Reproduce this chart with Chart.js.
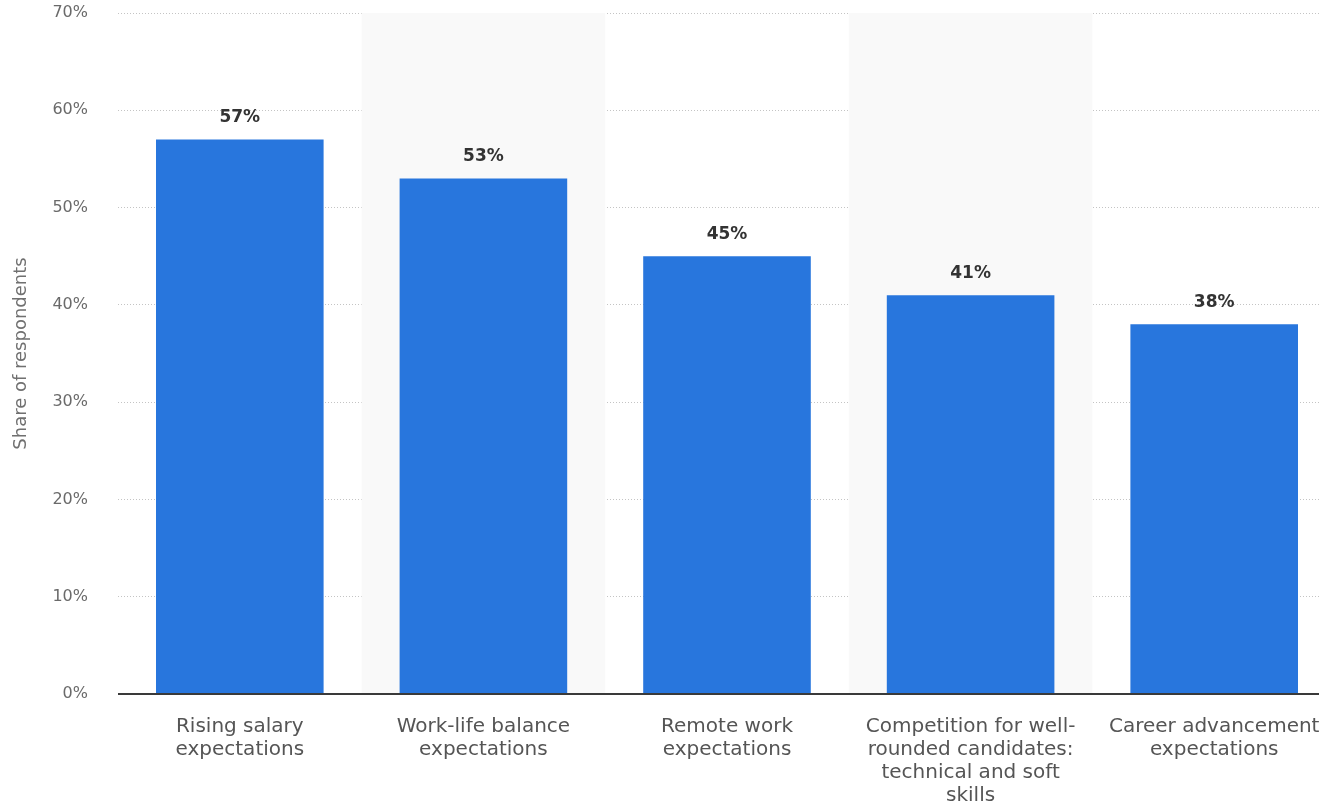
<!DOCTYPE html>
<html>
<head>
<meta charset="utf-8">
<script src="https://cdn.jsdelivr.net/npm/chart.js@4/dist/chart.umd.min.js"></script>
<style>
  html, body { margin: 0; padding: 0; background: #fff; overflow: hidden; }
  #wrap { width: 1319px; height: 803px; overflow: hidden; position: relative; }
  #box { width: 1336px; height: 803px; position: absolute; left: 0; top: 0; }
</style>
</head>
<body>
<div id="wrap"><div id="box"><canvas id="chart"></canvas></div></div>
<script>
// Survey categories (multi-line labels) and share of respondents in percent
const categories = [
  ["Rising salary", "expectations"],
  ["Work-life balance", "expectations"],
  ["Remote work", "expectations"],
  ["Competition for well-", "rounded candidates:", "technical and soft", "skills"],
  ["Career advancement", "expectations"]
];
const shares = [57, 53, 45, 41, 38];
const yTicks = [0, 10, 20, 30, 40, 50, 60, 70];

const FONT = "'DejaVu Sans', Verdana, sans-serif";

// Light shading behind every second category column
const bandPlugin = {
  id: 'bands',
  beforeDatasetsDraw(chart) {
    const { ctx, chartArea, scales: { x } } = chart;
    const w = x.width / categories.length;
    ctx.save();
    ctx.fillStyle = '#f9f9f9';
    categories.forEach((c, i) => {
      if (i % 2 === 1) {
        const cx = x.getPixelForValue(i);
        ctx.fillRect(cx - w / 2, chartArea.top, w, chartArea.bottom - chartArea.top);
      }
    });
    ctx.restore();
  }
};

// Value labels above each bar
const valueLabelPlugin = {
  id: 'valueLabels',
  afterDatasetsDraw(chart) {
    const { ctx } = chart;
    const meta = chart.getDatasetMeta(0);
    ctx.save();
    ctx.font = "bold 17px " + FONT;
    ctx.fillStyle = '#333333';
    ctx.textAlign = 'center';
    ctx.textBaseline = 'middle';
    meta.data.forEach((bar, i) => {
      ctx.fillText(shares[i] + '%', bar.x, bar.y - 22);
    });
    ctx.restore();
  }
};

// Solid baseline at 0%
const baselinePlugin = {
  id: 'baseline',
  afterDatasetsDraw(chart) {
    const { ctx, chartArea, scales: { y } } = chart;
    const yy = y.getPixelForValue(0);
    ctx.save();
    ctx.strokeStyle = '#3a3a3a';
    ctx.lineWidth = 2;
    ctx.beginPath();
    ctx.moveTo(chartArea.left, yy);
    ctx.lineTo(chartArea.right, yy);
    ctx.stroke();
    ctx.restore();
  }
};

new Chart(document.getElementById('chart'), {
  type: 'bar',
  data: {
    labels: categories,
    datasets: [{
      data: shares,
      backgroundColor: '#2876dd',
      borderWidth: 0,
      categoryPercentage: 1,
      barPercentage: 0.688
    }]
  },
  options: {
    responsive: true,
    maintainAspectRatio: false,
    animation: false,
    layout: { padding: { top: 13, right: 0, bottom: 0, left: 0 } },
    plugins: {
      legend: { display: false },
      tooltip: { enabled: false }
    },
    scales: {
      x: {
        grid: { display: false, drawTicks: false },
        border: { display: false },
        ticks: {
          color: '#555555',
          font: { family: FONT, size: 20, lineHeight: '23px' },
          padding: 21,
          maxRotation: 0,
          autoSkip: false
        },
        afterFit(scale) {
          scale.height = 109;
          scale.paddingLeft = 0;
          scale.paddingRight = 0;
        }
      },
      y: {
        min: 0,
        max: 70,
        afterBuildTicks(scale) { scale.ticks = yTicks.map(v => ({ value: v })); },
        grid: {
          color: '#c4c4c4',
          lineWidth: 1,
          drawTicks: false
        },
        border: { display: false, dash: [1, 2] },
        ticks: {
          color: '#6a6a6a',
          font: { family: FONT, size: 16 },
          padding: 30,
          callback: v => v + '%'
        },
        title: {
          display: true,
          text: 'Share of respondents',
          color: '#707070',
          font: { family: FONT, size: 18 },
          padding: { top: 11, bottom: 0 }
        },
        afterFit(scale) {
          scale.width = 118;
          scale.paddingTop = 0;
          scale.paddingBottom = 0;
        }
      }
    }
  },
  plugins: [bandPlugin, valueLabelPlugin, baselinePlugin]
});
</script>
</body>
</html>
